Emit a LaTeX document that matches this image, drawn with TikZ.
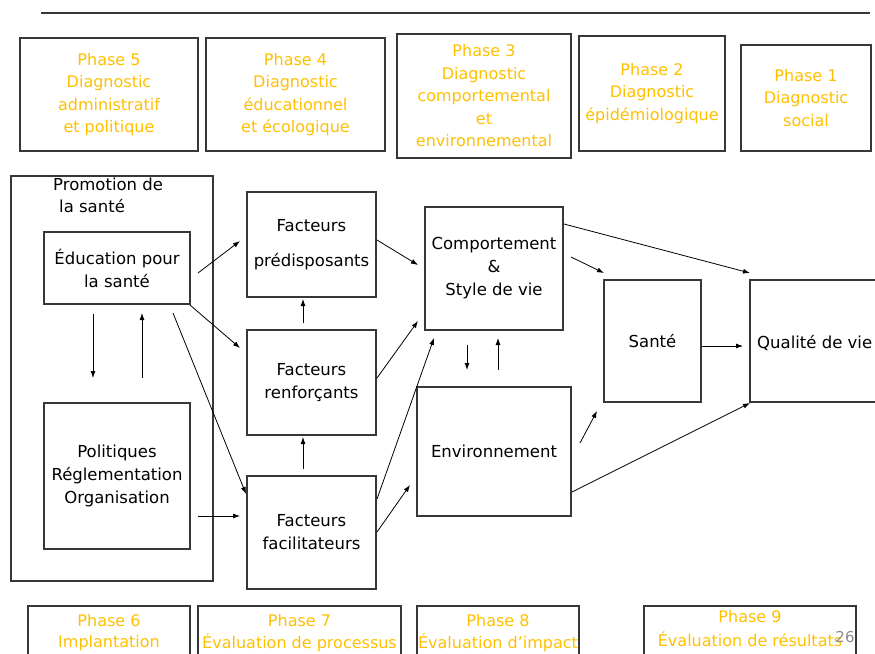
\documentclass[tikz,border=0pt]{standalone}
\usepackage{fontspec}
\setmainfont{DejaVu Sans}
\usetikzlibrary{arrows.meta}
\definecolor{phasecol}{RGB}{255,192,0}
\definecolor{linecol}{RGB}{55,55,55}
\definecolor{pagenum}{RGB}{140,140,140}
\begin{document}
\begin{tikzpicture}[x=1pt,y=-1pt,
  box/.style={draw=linecol, line width=1.2pt, inner sep=0pt, align=center},
  phase/.style={box, text=phasecol, font=\fontsize{16}{22.5}\selectfont},
  mainbox/.style={box, text=black, font=\fontsize{16.5}{23}\selectfont},
  lbl/.style={inner sep=0pt, font=\fontsize{16.5}{23}\selectfont},
  phlbl/.style={inner sep=0pt, text=phasecol, font=\fontsize{16}{22.5}\selectfont},
  arr/.style={-{Latex[length=7pt,width=5pt]}, line width=0.8pt, black}]
\useasboundingbox (0,0) rectangle (875,653);
\clip (0,0) rectangle (875,653);
\fill[white] (0,0) rectangle (875,653);

% top rule
\coordinate (tl1) at (41,13);
\coordinate (tl2) at (870,13);
\draw[linecol, line width=1.3pt] (tl1) -- (tl2);

% top phases
\node[phase, minimum width=178pt, minimum height=113pt] (p5) at (109,94.5) {Phase 5\\Diagnostic\\administratif\\et politique};
\node[phase, minimum width=179pt, minimum height=113pt] (p4) at (295.5,94.5) {Phase 4\\Diagnostic\\éducationnel\\et écologique};
\node[phase, minimum width=174pt, minimum height=124pt] (p3) at (484,96) {Phase 3\\Diagnostic\\comportemental\\et\\environnemental};
\node[phase, minimum width=146pt, minimum height=115pt] (p2) at (652,93.5) {Phase 2\\Diagnostic\\épidémiologique};
\node[phase, minimum width=130pt, minimum height=106pt] (p1) at (806,98) {Phase 1\\Diagnostic\\social};

% promotion block
\node[box, minimum width=202pt, minimum height=405pt] (promo) at (112,378.5) {};
\node[lbl, anchor=west] (promo1) at (53,184) {Promotion de};
\node[lbl, anchor=west] (promo2) at (59,206) {la santé};
\node[mainbox, minimum width=146pt, minimum height=72pt] (edu) at (117,268) {Éducation pour\\la santé};
\node[mainbox, minimum width=146pt, minimum height=146pt] (pol) at (117,476) {Politiques\\Réglementation\\Organisation};

% factors
\node[mainbox, minimum width=129pt, minimum height=105pt] (pred) at (311.5,244.5) {Facteurs\\[12pt]prédisposants};
\node[mainbox, minimum width=129pt, minimum height=105pt] (renf) at (311.5,382.5) {Facteurs\\renforçants};
\node[mainbox, minimum width=129pt, minimum height=113pt] (facil) at (311.5,532.5) {Facteurs\\facilitateurs};

% behaviour / environment
\node[mainbox, minimum width=138pt, minimum height=123pt] (comp) at (494,268.5) {Comportement\\\&\\Style de vie};
\node[mainbox, minimum width=154pt, minimum height=129pt] (env) at (494,451.5) {Environnement};

% outcomes
\node[mainbox, minimum width=97pt, minimum height=122pt] (sante) at (652.5,341) {Santé};
\node[box, minimum width=160pt, minimum height=122pt] (qual) at (830,341) {};
\node[lbl, anchor=west] (qualtxt) at (757,343) {Qualité de vie};

% bottom phases
\node[box, minimum width=162pt, minimum height=80pt] (p6) at (109,646) {};
\node[box, minimum width=203pt, minimum height=80pt] (p7) at (299.5,646) {};
\node[box, minimum width=162pt, minimum height=80pt] (p8) at (498,646) {};
\node[box, minimum width=212pt, minimum height=80pt] (p9) at (750,646) {};
\node[phlbl] (p6a) at (109,621) {Phase 6};
\node[phlbl] (p6b) at (109,643) {Implantation};
\node[phlbl] (p7a) at (299.5,621) {Phase 7};
\node[phlbl] (p7b) at (299.5,643) {Évaluation de processus};
\node[phlbl] (p8a) at (498,621) {Phase 8};
\node[phlbl] (p8b) at (498,643) {Évaluation d’impact};
\node[phlbl] (p9a) at (750,617) {Phase 9};
\node[phlbl] (p9b) at (750,639) {Évaluation de résultats};
\node[inner sep=0pt, text=pagenum, font=\fontsize{15}{18}\selectfont] (pg) at (845,637) {26};

% arrow end points
\coordinate (a1s) at (198,273); \coordinate (a1e) at (240,241);
\coordinate (a2s) at (190,305); \coordinate (a2e) at (240,348);
\coordinate (a3s) at (173,313); \coordinate (a3e) at (246,494);
\coordinate (a4s) at (198,516); \coordinate (a4e) at (240,516);
\coordinate (a5s) at (93,314);  \coordinate (a5e) at (93,378);
\coordinate (a6s) at (142,378); \coordinate (a6e) at (142,313);
\coordinate (a7s) at (303,323); \coordinate (a7e) at (303,299);
\coordinate (a8s) at (303,469); \coordinate (a8e) at (303,437);
\coordinate (a9s) at (377,240); \coordinate (a9e) at (418,265);
\coordinate (a10s) at (377,378); \coordinate (a10e) at (418,321);
\coordinate (a11s) at (377,499); \coordinate (a11e) at (434,338);
\coordinate (a12s) at (377,532); \coordinate (a12e) at (410,485);
\coordinate (a13s) at (467,345); \coordinate (a13e) at (467,370);
\coordinate (a14s) at (498,370); \coordinate (a14e) at (498,338);
\coordinate (a15s) at (571,257); \coordinate (a15e) at (604,273);
\coordinate (a16s) at (564,224); \coordinate (a16e) at (750,273);
\coordinate (a17s) at (702,346); \coordinate (a17e) at (743,346);
\coordinate (a18s) at (580,443); \coordinate (a18e) at (597,411);
\coordinate (a19s) at (572,492); \coordinate (a19e) at (750,403);

\foreach \i in {1,...,19} {\draw[arr] (a\i s) -- (a\i e);}
\end{tikzpicture}
\end{document}
